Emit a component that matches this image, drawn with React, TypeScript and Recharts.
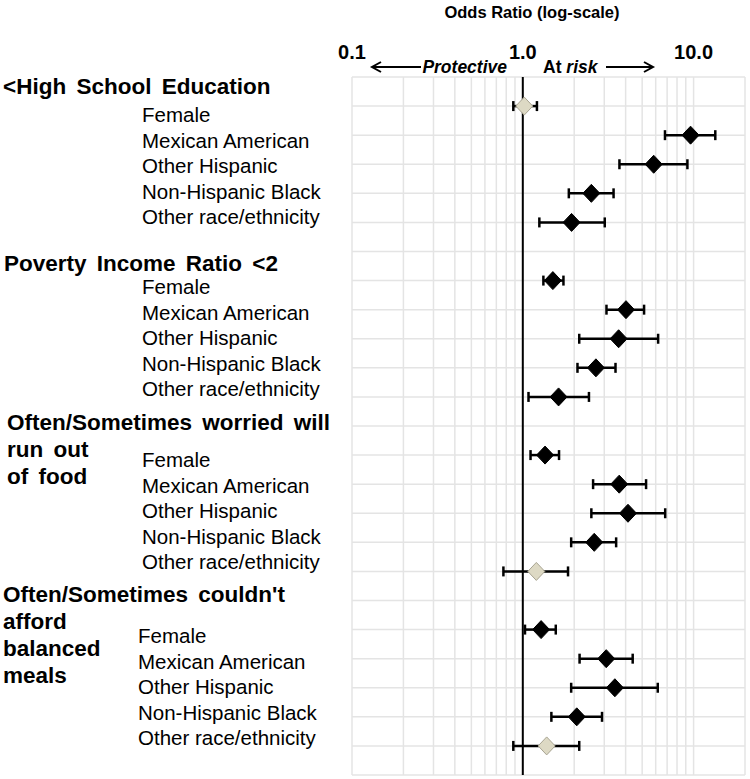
import React from 'react';
import { ScatterChart, Scatter, XAxis, YAxis, CartesianGrid, ErrorBar, ReferenceLine } from 'recharts';

// risk factor groups, each heading may wrap over several lines
const groupLines = [
  ['<High School Education'],
  ['Poverty Income Ratio <2'],
  ['Often/Sometimes worried will', 'run out', 'of food'],
  ["Often/Sometimes couldn't", 'afford', 'balanced', 'meals'],
];
const subgroups = ['Female', 'Mexican American', 'Other Hispanic', 'Non-Hispanic Black', 'Other race/ethnicity'];

// odds ratios and 95% CI, one row per group, one column per subgroup
const oddsRatio = [
  [1.02, 9.6, 5.84, 2.52, 1.93],
  [1.5, 4.02, 3.64, 2.68, 1.62],
  [1.35, 3.67, 4.13, 2.62, 1.2],
  [1.28, 3.08, 3.46, 2.07, 1.38],
];
const ciLow = [
  [0.88, 6.8, 3.68, 1.86, 1.25],
  [1.32, 3.09, 2.14, 2.09, 1.08],
  [1.11, 2.58, 2.52, 1.92, 0.77],
  [1.03, 2.15, 1.92, 1.47, 0.88],
];
const ciHigh = [
  [1.21, 13.4, 9.2, 3.4, 3.02],
  [1.73, 5.13, 6.2, 3.49, 2.44],
  [1.63, 5.27, 6.82, 3.52, 1.84],
  [1.56, 4.4, 6.17, 2.91, 2.14],
];

const xTicks = [0.1, 0.2, 0.3, 0.4, 0.5, 0.6, 0.7, 0.8, 0.9, 1, 2, 3, 4, 5, 6, 7, 8, 9, 10, 20];
const majorTicks = [0.1, 1, 10];
const majorLabels = ['0.1', '1.0', '10.0'];

const ROWS_PER_GROUP = 6;
const rowCount = groupLines.length * ROWS_PER_GROUP;
const rowTicks = Array.from({ length: rowCount + 1 }, (_, i) => i);

const rows = oddsRatio.flatMap((grp, g) =>
  grp.map((or, i) => ({
    or,
    row: g * ROWS_PER_GROUP + i + 1,
    err: [or - ciLow[g][i], ciHigh[g][i] - or],
    sig: ciLow[g][i] > 1 || ciHigh[g][i] < 1,
  }))
);

const FONT = '"Liberation Sans", Arial, sans-serif';

// label layout (labels in the original are not aligned to grid rows)
const headingX = [3, 4, 7, 3];
const headingY = [94, 271, 430, 602];
const headingStep = 27;
const subX = [142, 142, 142, 138];
const subY = [122, 294, 467, 643];
const subStep = 25.6;

const Diamond = (props: any) => {
  const { cx, cy, payload } = props;
  if (cx == null || cy == null) return <g />;
  const w = 8.5;
  const h = 9;
  return (
    <path
      d={`M${cx},${cy - h} L${cx + w},${cy} L${cx},${cy + h} L${cx - w},${cy} Z`}
      fill={payload.sig ? '#000' : '#ddd9c4'}
      stroke={payload.sig ? '#000' : '#a8a492'}
      strokeWidth={1}
    />
  );
};

const TopTick = (props: any) => {
  const { x, payload } = props;
  const idx = majorTicks.indexOf(payload.value);
  if (idx < 0) return <g />;
  return (
    <text x={x} y={59} textAnchor="middle" fontFamily={FONT} fontWeight="bold" fontSize={20} fill="#000">
      {majorLabels[idx]}
    </text>
  );
};

const NoTick = () => <g />;

export default function App() {
  return (
    <div style={{ position: 'absolute', left: 0, top: 0, width: 750, height: 779, background: '#fff' }}>
      <ScatterChart width={750} height={779} margin={{ top: 47, right: 5, bottom: 4, left: 352 }}>
        <CartesianGrid stroke="#e4e4e4" strokeWidth={1.5} />
        <XAxis
          type="number"
          dataKey="or"
          scale="log"
          domain={[0.1, 20]}
          ticks={xTicks}
          orientation="top"
          height={30}
          axisLine={false}
          tickLine={false}
          tick={TopTick}
          interval={0}
          allowDataOverflow
        />
        <YAxis
          type="number"
          dataKey="row"
          domain={[0, rowCount]}
          ticks={rowTicks}
          interval={0}
          reversed
          width={0}
          tick={NoTick}
          axisLine={false}
          tickLine={false}
        />
        <ReferenceLine x={1} stroke="#000" strokeWidth={2} />
        <Scatter data={rows} shape={<Diamond />} isAnimationActive={false}>
          <ErrorBar dataKey="err" direction="x" width={5} stroke="#000" strokeWidth={2.5} />
        </Scatter>
      </ScatterChart>
      <svg
        width={750}
        height={779}
        style={{ position: 'absolute', left: 0, top: 0, pointerEvents: 'none' }}
        fontFamily={FONT}
      >
        <text x={532} y={18} textAnchor="middle" fontWeight="bold" fontSize={16.5}>
          Odds Ratio (log-scale)
        </text>
        <text x={507} y={73} textAnchor="end" fontWeight="bold" fontStyle="italic" fontSize={17.5}>
          Protective
        </text>
        <text x={543} y={73} fontWeight="bold" fontSize={17.5}>
          At <tspan fontStyle="italic">risk</tspan>
        </text>
        <g stroke="#000" strokeWidth={2} fill="none">
          <line x1={372} y1={67} x2={421} y2={67} />
          <polyline points="381,62 372,67 381,72" />
          <line x1={606} y1={67} x2={653} y2={67} />
          <polyline points="644,62 653,67 644,72" />
        </g>
        {groupLines.map((lines, g) => (
          <g key={g}>
            {lines.map((ln, j) => (
              <text
                key={j}
                x={headingX[g]}
                y={headingY[g] + j * headingStep}
                fontWeight="bold"
                fontSize={22.5}
                wordSpacing={4}
              >
                {ln}
              </text>
            ))}
            {subgroups.map((s, i) => (
              <text key={s} x={subX[g]} y={subY[g] + i * subStep} fontSize={20.5}>
                {s}
              </text>
            ))}
          </g>
        ))}
      </svg>
    </div>
  );
}
